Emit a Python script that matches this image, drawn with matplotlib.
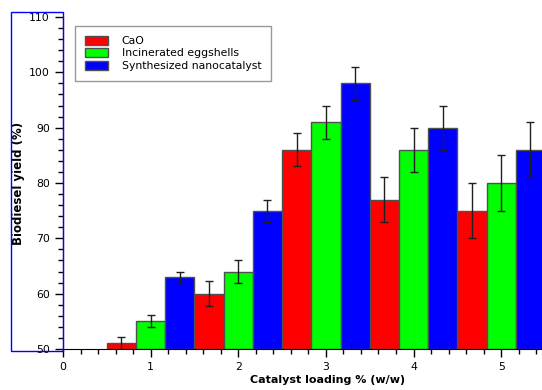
import matplotlib
matplotlib.use("Agg")
import matplotlib.pyplot as plt
from matplotlib.patches import Rectangle
from matplotlib.ticker import MultipleLocator

loading = [1, 2, 3, 4, 5]
series_names = ["CaO", "Incinerated eggshells", "Synthesized nanocatalyst"]
cao = [51, 60, 86, 77, 75]
cao_err = [1.2, 2.2, 3, 4, 5]
eggshell = [55, 64, 91, 86, 80]
eggshell_err = [1.1, 2, 3, 4, 5]
nano = [63, 75, 98, 90, 86]
nano_err = [1, 2, 3, 4, 5]
colors = ["#ff0000", "#00ff00", "#0000ff"]

fig = plt.figure(figsize=(5.42, 3.9), dpi=100)
# axes run past the right edge a little, the picture is cut off there
ax = fig.add_axes([63/542, 1-349/390, 482/542, (349-17)/390])

w = 1/3
for i, (vals, errs) in enumerate([(cao, cao_err), (eggshell, eggshell_err), (nano, nano_err)]):
    xs = [x + (i-1)*w for x in loading]
    heights = [v - 50 for v in vals]
    ax.bar(xs, heights, width=w, bottom=50, color=colors[i], edgecolor="#505050",
           linewidth=1, label=series_names[i], zorder=2)
    ax.errorbar(xs, vals, yerr=errs, fmt="none", ecolor="#202020", elinewidth=1,
                capsize=3, capthick=1, zorder=3)

ax.set_xlim(0, 5.5)
ax.set_ylim(50, 110)
ax.xaxis.set_major_locator(MultipleLocator(1))
ax.xaxis.set_minor_locator(MultipleLocator(0.2))
ax.yaxis.set_major_locator(MultipleLocator(10))
ax.yaxis.set_minor_locator(MultipleLocator(2))
ax.tick_params(which="major", length=6, width=1, labelsize=7.8, colors="black")
ax.tick_params(which="minor", length=3.5, width=1)
ax.spines["top"].set_visible(False)
ax.spines["right"].set_visible(False)

ax.set_xlabel("Catalyst loading % (w/w)", fontweight="bold", fontsize=8)
ax.xaxis.set_label_coords(0.549, -0.078)
ax.set_ylabel("Biodiesel yield (%)", fontweight="bold", fontsize=8.5)
ax.yaxis.set_label_coords(-0.079, 0.5)

leg = ax.legend(loc="upper left", bbox_to_anchor=(12/482, 1-9/332), borderaxespad=0,
                fontsize=7.8, fancybox=False, edgecolor="#808080", handlelength=2.1,
                handleheight=0.9, labelspacing=0.2, handletextpad=1.3, borderpad=0.9)
leg.get_frame().set_linewidth(1)

# blue selection box round the y label
fig.patches.append(Rectangle((11/542, 1-351/390), 52/542, 339/390, transform=fig.transFigure,
                             fill=False, edgecolor="#0000ff", linewidth=1))

fig.savefig("out.png", dpi=100)
